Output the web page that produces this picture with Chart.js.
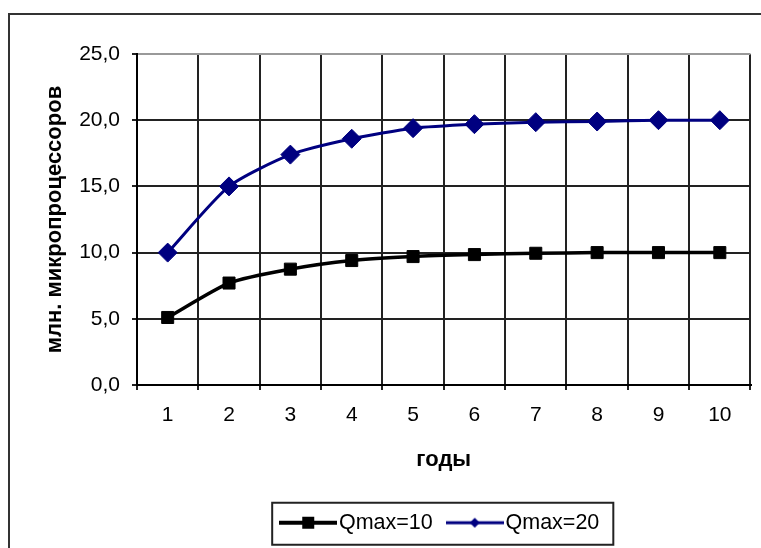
<!DOCTYPE html>
<html>
<head>
<meta charset="utf-8">
<script src="https://cdn.jsdelivr.net/npm/chart.js@4"></script>
<style>
  html, body { margin: 0; padding: 0; background: #fff; overflow: hidden; }
  #frame { position: absolute; left: 8px; top: 13px; width: 800px; height: 600px; border: 2px solid #333; }
  #wrap { position: absolute; left: 0; top: 0; width: 761px; height: 548px; }
</style>
</head>
<body>
<div id="frame"></div>
<div id="wrap"><canvas id="chart"></canvas></div>
<script>
  const years = ['1', '2', '3', '4', '5', '6', '7', '8', '9', '10'];
  const qmax10 = [5.1, 7.7, 8.75, 9.4, 9.7, 9.85, 9.95, 10.0, 10.0, 10.0];
  const qmax20 = [10.0, 15.0, 17.4, 18.6, 19.4, 19.7, 19.85, 19.9, 20.0, 20.0];
  const seriesNames = ['Qmax=10', 'Qmax=20'];
  const yTicks = [0, 5, 10, 15, 20, 25];

  const fontFamily = "'Liberation Sans', Arial, sans-serif";
  const black = '#000000';
  const navy = '#000080';

  // small line+marker picture for the legend entries
  function legendSymbol(color, lineWidth, marker) {
    const c = document.createElement('canvas');
    c.width = 58;
    c.height = 20;
    const g = c.getContext('2d');
    g.strokeStyle = color;
    g.fillStyle = color;
    g.lineWidth = lineWidth;
    g.beginPath();
    g.moveTo(0, 10);
    g.lineTo(58, 10);
    g.stroke();
    g.beginPath();
    if (marker === 'rect') {
      g.rect(23, 4, 12, 12);
    } else {
      g.moveTo(29, 5);
      g.lineTo(34, 10);
      g.lineTo(29, 15);
      g.lineTo(24, 10);
      g.closePath();
    }
    g.fill();
    return c;
  }

  const legendImages = [
    legendSymbol(black, 4, 'rect'),
    legendSymbol(navy, 3, 'diamond'),
  ];

  const legendFrame = {
    id: 'legendFrame',
    afterDraw(chart) {
      const lg = chart.legend;
      if (!lg || !lg.legendHitBoxes || !lg.legendHitBoxes.length) return;
      const hb = lg.legendHitBoxes;
      const last = hb[hb.length - 1];
      const left = hb[0].left - 16;
      const right = last.left + last.width + 14;
      const cy = hb[0].top + hb[0].height / 2;
      const ctx = chart.ctx;
      ctx.save();
      ctx.strokeStyle = '#222';
      ctx.lineWidth = 2;
      ctx.strokeRect(left, cy - 20, right - left, 42);
      ctx.restore();
    }
  };

  const canvas = document.getElementById('chart');
  new Chart(canvas, {
    type: 'line',
    data: {
      labels: years,
      datasets: [{
        label: seriesNames[0],
        data: qmax10,
        borderColor: black,
        backgroundColor: black,
        borderWidth: 3.5,
        pointStyle: 'rect',
        pointRadius: 8.5,
        pointBorderWidth: 1,
        tension: 0.22,
      }, {
        label: seriesNames[1],
        data: qmax20,
        borderColor: navy,
        backgroundColor: navy,
        borderWidth: 3,
        pointStyle: 'rectRot',
        pointRadius: 9.5,
        pointBorderWidth: 1,
        tension: 0.22,
      }],
    },
    options: {
      responsive: true,
      maintainAspectRatio: false,
      animation: false,
      layout: { padding: { top: 54, right: 3, left: 0, bottom: 4.5 } },
      plugins: {
        tooltip: { enabled: false },
        legend: {
          position: 'bottom',
          fullSize: false,
          labels: {
            color: black,
            font: { family: fontFamily, size: 21.5 },
            padding: 22,
            usePointStyle: true,
            pointStyleWidth: 40,
            generateLabels: chart => chart.data.datasets.map((ds, i) => ({
              text: ds.label,
              pointStyle: legendImages[i],
              fillStyle: ds.borderColor,
              strokeStyle: ds.borderColor,
              fontColor: black,
              lineWidth: 0,
              hidden: false,
              datasetIndex: i,
            })),
          },
        },
      },
      scales: {
        x: {
          offset: true,
          grid: {
            offset: true,
            color: ctx => (ctx.index === years.length ? '#999' : '#222'),
            lineWidth: 2,
            tickLength: 5,
            tickColor: '#222',
          },
          border: { color: black, width: 2 },
          ticks: {
            color: black,
            padding: 13,
            font: { family: fontFamily, size: 21 },
            maxRotation: 0,
          },
          title: {
            display: true,
            text: 'годы',
            color: black,
            font: { family: fontFamily, size: 22, weight: 'bold' },
            padding: { top: 0, bottom: 17 },
          },
          afterFit: scale => { scale.height = 105; },
        },
        y: {
          min: 0,
          max: 25,
          afterBuildTicks: scale => { scale.ticks = yTicks.map(v => ({ value: v })); },
          grid: {
            color: ctx => (ctx.tick && ctx.tick.value === 25 ? '#999' : '#222'),
            lineWidth: 2,
            tickLength: 5,
            tickColor: '#222',
          },
          border: { color: black, width: 2 },
          ticks: {
            color: black,
            padding: 12,
            font: { family: fontFamily, size: 21 },
            callback: v => Number(v).toFixed(1).replace('.', ','),
          },
          title: {
            display: true,
            text: 'млн. микропроцессоров',
            color: black,
            font: { family: fontFamily, size: 22, weight: 'bold' },
            padding: { top: 42, bottom: 0 },
          },
          afterFit: scale => { scale.width = 137; },
        },
      },
    },
    plugins: [legendFrame],
  });
</script>
</body>
</html>
